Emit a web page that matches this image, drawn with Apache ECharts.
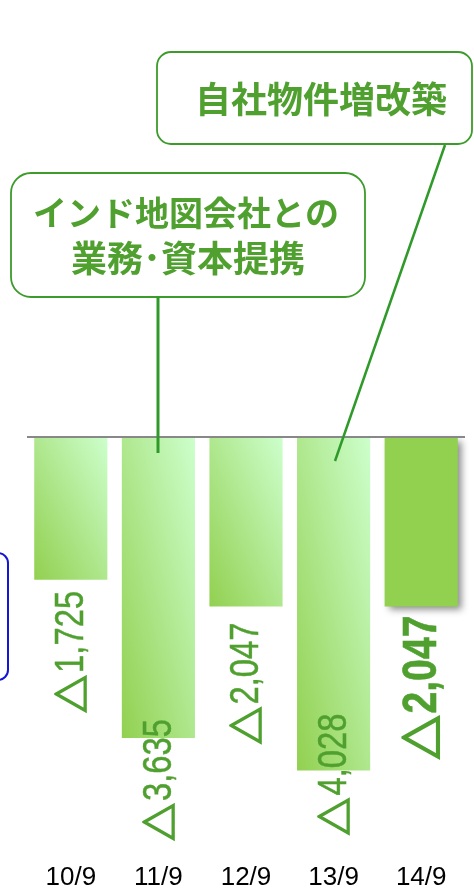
<!DOCTYPE html>
<html><head><meta charset="utf-8">
<script src="https://cdn.jsdelivr.net/npm/echarts@6/dist/echarts.min.js"></script>
<style>html,body{margin:0;padding:0;background:#fff}#c{width:474px;height:891px}</style>
</head><body><div id="c"></div>
<script>
// ---- data ----
const categories = ['10/9', '11/9', '12/9', '13/9', '14/9'];
const values = [-1725, -3635, -2047, -4028, -2047];
const calloutTopText = '自社物件増改築';
const calloutLeftText = ['インド地図会社との', '業務･資本提携'];

// ---- styles ----
const GREEN_DARK = '#92D050';
const GREEN_LIGHT = '#CCFFCC';
const TEXT_GREEN = '#4FA02F';
const BORDER_GREEN = '#3C9B2A';
const labelDistance = [11, -19, 16, -57, 9];
const LAT = "'Liberation Sans', Arial, sans-serif";
const JP = "'Noto Sans CJK JP', sans-serif";

const measureCtx = document.createElement('canvas').getContext('2d');
function textWidth(str, font) { measureCtx.font = font; return measureCtx.measureText(str).width; }

const chart = echarts.init(document.getElementById('c'), null, {renderer: 'canvas'});

function buildBarData(gradients) {
  return values.map((v, i) => {
    const last = i === values.length - 1;
    return {value: v, itemStyle: {color: last ? GREEN_DARK : (gradients ? gradients[i] : GREEN_DARK)}};
  });
}

function renderLabel(params, api) {
  const i = api.value(0), v = api.value(1);
  const last = i === values.length - 1;
  const p = api.coord([i, v]);
  const numFont = (last ? 'bold 49px ' : 'normal 41px ') + LAT;
  const triFont = (last ? 'bold 44px ' : 'bold 38px ') + JP;
  const sx = 0.8;
  const numStr = Math.abs(v).toLocaleString('en-US');
  const w = textWidth(numStr, numFont) * sx;
  return {
    type: 'group',
    x: p[0] + 1,
    y: p[1] + labelDistance[i],
    rotation: Math.PI / 2,
    children: [
      {type: 'text', x: 0, y: 0, scaleX: sx,
       style: {text: numStr, font: numFont, fill: TEXT_GREEN, stroke: TEXT_GREEN, lineWidth: last ? 0.6 : 0.5,
               align: 'right', verticalAlign: 'middle'}},
      {type: 'text', x: -w - 2, y: 0,
       style: {text: '△', font: triFont, fill: TEXT_GREEN, stroke: TEXT_GREEN, lineWidth: last ? 2.2 : 1.6,
               align: 'right', verticalAlign: 'middle'}}
    ]
  };
}

const option = {
  animation: false,
  backgroundColor: '#ffffff',
  grid: {left: 27, right: 9, top: 437, height: 417},
  xAxis: {
    type: 'category',
    data: categories,
    position: 'bottom',
    axisLine: {show: false, onZero: false},
    axisTick: {show: false},
    splitLine: {show: false},
    axisLabel: {color: '#000', fontSize: 26, fontFamily: LAT, margin: 14, interval: 0}
  },
  yAxis: {type: 'value', min: -5000, max: 0, show: false, splitLine: {show: false}},
  series: [{
    type: 'bar',
    data: buildBarData(null),
    barCategoryGap: '16.5%',
    itemStyle: {
      shadowColor: 'rgba(0,0,0,0.45)',
      shadowBlur: 7,
      shadowOffsetX: 4,
      shadowOffsetY: 4
    },
    markLine: {
      silent: true,
      symbol: 'none',
      label: {show: false},
      lineStyle: {color: '#888888', width: 2, type: 'solid'},
      data: [{yAxis: 0}]
    }
  }, {
    type: 'custom',
    data: values.map((v, i) => [i, v]),
    renderItem: renderLabel,
    z: 5,
    silent: true
  }],
  graphic: [
    {type: 'rect', z: 100, shape: {x: 157, y: 52, width: 315, height: 92, r: 14},
     style: {fill: '#fff', stroke: BORDER_GREEN, lineWidth: 1.8}},
    {type: 'text', z: 101, x: 321, y: 99,
     style: {text: calloutTopText, fill: TEXT_GREEN, font: 'bold 36px ' + JP, align: 'center', verticalAlign: 'middle'}},
    {type: 'line', z: 100, shape: {x1: 445, y1: 145, x2: 335, y2: 461},
     style: {stroke: '#2F9A2A', lineWidth: 2.5}},
    {type: 'rect', z: 100, shape: {x: 11, y: 173, width: 354, height: 124, r: 20},
     style: {fill: '#fff', stroke: BORDER_GREEN, lineWidth: 1.8}},
    {type: 'text', z: 101, x: 186, y: 213,
     style: {text: calloutLeftText[0], fill: TEXT_GREEN, font: 'bold 34px ' + JP, align: 'center', verticalAlign: 'middle'}},
    {type: 'text', z: 101, x: 188, y: 258,
     style: {text: calloutLeftText[1], fill: TEXT_GREEN, font: 'bold 36px ' + JP, align: 'center', verticalAlign: 'middle'}},
    {type: 'line', z: 100, shape: {x1: 158, y1: 297, x2: 158, y2: 453},
     style: {stroke: '#2F9A2A', lineWidth: 3}},
    {type: 'rect', z: 100, shape: {x: -30, y: 553, width: 38, height: 127, r: 10},
     style: {fill: 'none', stroke: '#1515D5', lineWidth: 2}}
  ]
};

chart.setOption(option);

// per-bar diagonal gradient scaled with the shape (dark bottom-left -> light top-right)
try {
  const data = chart.getModel().getSeriesByIndex(0).getData();
  const grads = values.map((v, i) => {
    const l = data.getItemLayout(i);
    const w = Math.abs(l.width), h = Math.abs(l.height);
    const s = w * w + h * h;
    return new echarts.graphic.LinearGradient(0, 1, 2 * h * h / s, 1 - 2 * w * w / s, [
      {offset: 0, color: GREEN_DARK},
      {offset: 1, color: GREEN_LIGHT}
    ]);
  });
  chart.setOption({series: [{data: buildBarData(grads)}]});
} catch (e) {
  chart.setOption({series: [{data: buildBarData(values.map(() => new echarts.graphic.LinearGradient(0, 1, 1.7, 0.7, [
    {offset: 0, color: GREEN_DARK}, {offset: 1, color: GREEN_LIGHT}])))}]});
}
</script>
</body></html>
